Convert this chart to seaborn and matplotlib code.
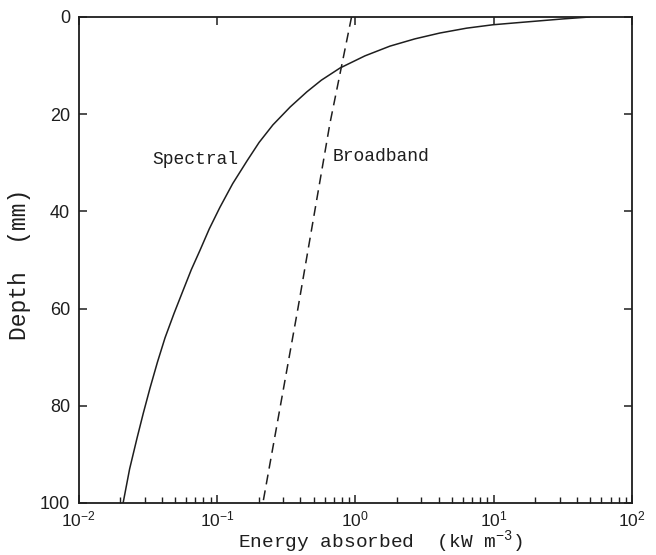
import numpy as np
import pandas as pd
import matplotlib
matplotlib.use("Agg")
import matplotlib.pyplot as plt
import matplotlib.ticker as mticker
import seaborn as sns

# Spectral curve (depth in mm, energy absorbed in kW m^-3)
spectral_depth = [0, 0.4, 0.8, 1.2, 1.6, 2.3, 3.3, 4.5, 6.0, 8.0, 10.5, 13.0, 15.4, 18.5,
                  22.2, 25.8, 29.5, 34.3, 39.2, 43.6, 48.0, 52.0, 56.3, 61.0, 66.0, 71.0,
                  76.3, 81.5, 86.6, 93.0, 100.0]
spectral_energy = [49.5, 31.6, 21.4, 14.5, 9.89, 6.38, 4.09, 2.70, 1.78, 1.175, 0.776,
                   0.569, 0.447, 0.339, 0.254, 0.202, 0.166, 0.130, 0.105, 0.0881, 0.0755,
                   0.0653, 0.0569, 0.0490, 0.0422, 0.0372, 0.0329, 0.0294, 0.0265, 0.0234,
                   0.0210]

# Broadband curve
broadband_depth = [0, 22, 60, 100]
broadband_energy = [0.94, 0.655, 0.385, 0.215]

y_ticks = [0, 20, 40, 60, 80, 100]
x_ticks = [1e-2, 1e-1, 1e0, 1e1, 1e2]

sns.set_style("ticks")
plt.rcParams["font.family"] = ["Liberation Sans", "DejaVu Sans"]
plt.rcParams["mathtext.fontset"] = "custom"
plt.rcParams["mathtext.rm"] = "Liberation Sans"
plt.rcParams["mathtext.it"] = "Liberation Sans:italic"

ink = "#1e1e1e"

fig = plt.figure(figsize=(6.56, 5.55), dpi=100)
fig.patch.set_facecolor("white")
ax = fig.add_axes([0.1197, 0.0937, 0.9634 - 0.1197, 0.9694 - 0.0937])
ax.set_facecolor("white")

spec = pd.DataFrame({"depth": spectral_depth, "energy": spectral_energy})
broad = pd.DataFrame({"depth": broadband_depth, "energy": broadband_energy})

sns.lineplot(data=spec, x="energy", y="depth", sort=False, ax=ax,
             color=ink, linewidth=1.1, estimator=None)
sns.lineplot(data=broad, x="energy", y="depth", sort=False, ax=ax,
             color=ink, linewidth=1.1, estimator=None)
ax.lines[-1].set_linestyle((0, (6.5, 4)))

ax.set_xscale("log")
ax.set_xlim(1e-2, 1e2)
ax.set_ylim(100, 0)
ax.set_xticks(x_ticks)
ax.set_yticks(y_ticks)
ax.xaxis.set_minor_locator(mticker.LogLocator(base=10, subs=np.arange(2, 10)))
ax.xaxis.set_minor_formatter(mticker.NullFormatter())

for s in ax.spines.values():
    s.set_linewidth(1.3)
    s.set_color(ink)

ax.tick_params(which="major", direction="in", length=6, width=1.1, color=ink,
               top=True, right=True, bottom=True, left=True, labelsize=13,
               labelcolor=ink)
ax.tick_params(axis="x", which="major", pad=4.5, labelsize=12.5)
ax.tick_params(axis="y", which="major", pad=6)
ax.tick_params(axis="x", which="minor", direction="in", length=4.5, width=1.0,
               color=ink, bottom=True, top=False)

mono = ["Liberation Mono", "DejaVu Sans Mono"]
ax.set_xlabel(r"Energy absorbed  (kW m$^{\mathdefault{-3}}$)", fontsize=14,
              family=mono, color=ink, va="bottom")
ax.xaxis.set_label_coords(0.545, -0.106)
ax.set_ylabel("Depth  (mm)", fontsize=16.5, family=mono, color=ink)
ax.yaxis.set_label_coords(-0.086, 0.49)

ax.text(0.034, 29.4, "Spectral", fontsize=13, family=mono, color=ink,
        ha="left", va="center")
ax.text(0.69, 28.8, "Broadband", fontsize=13, family=mono, color=ink,
        ha="left", va="center")

fig.savefig("out.png", dpi=100)
